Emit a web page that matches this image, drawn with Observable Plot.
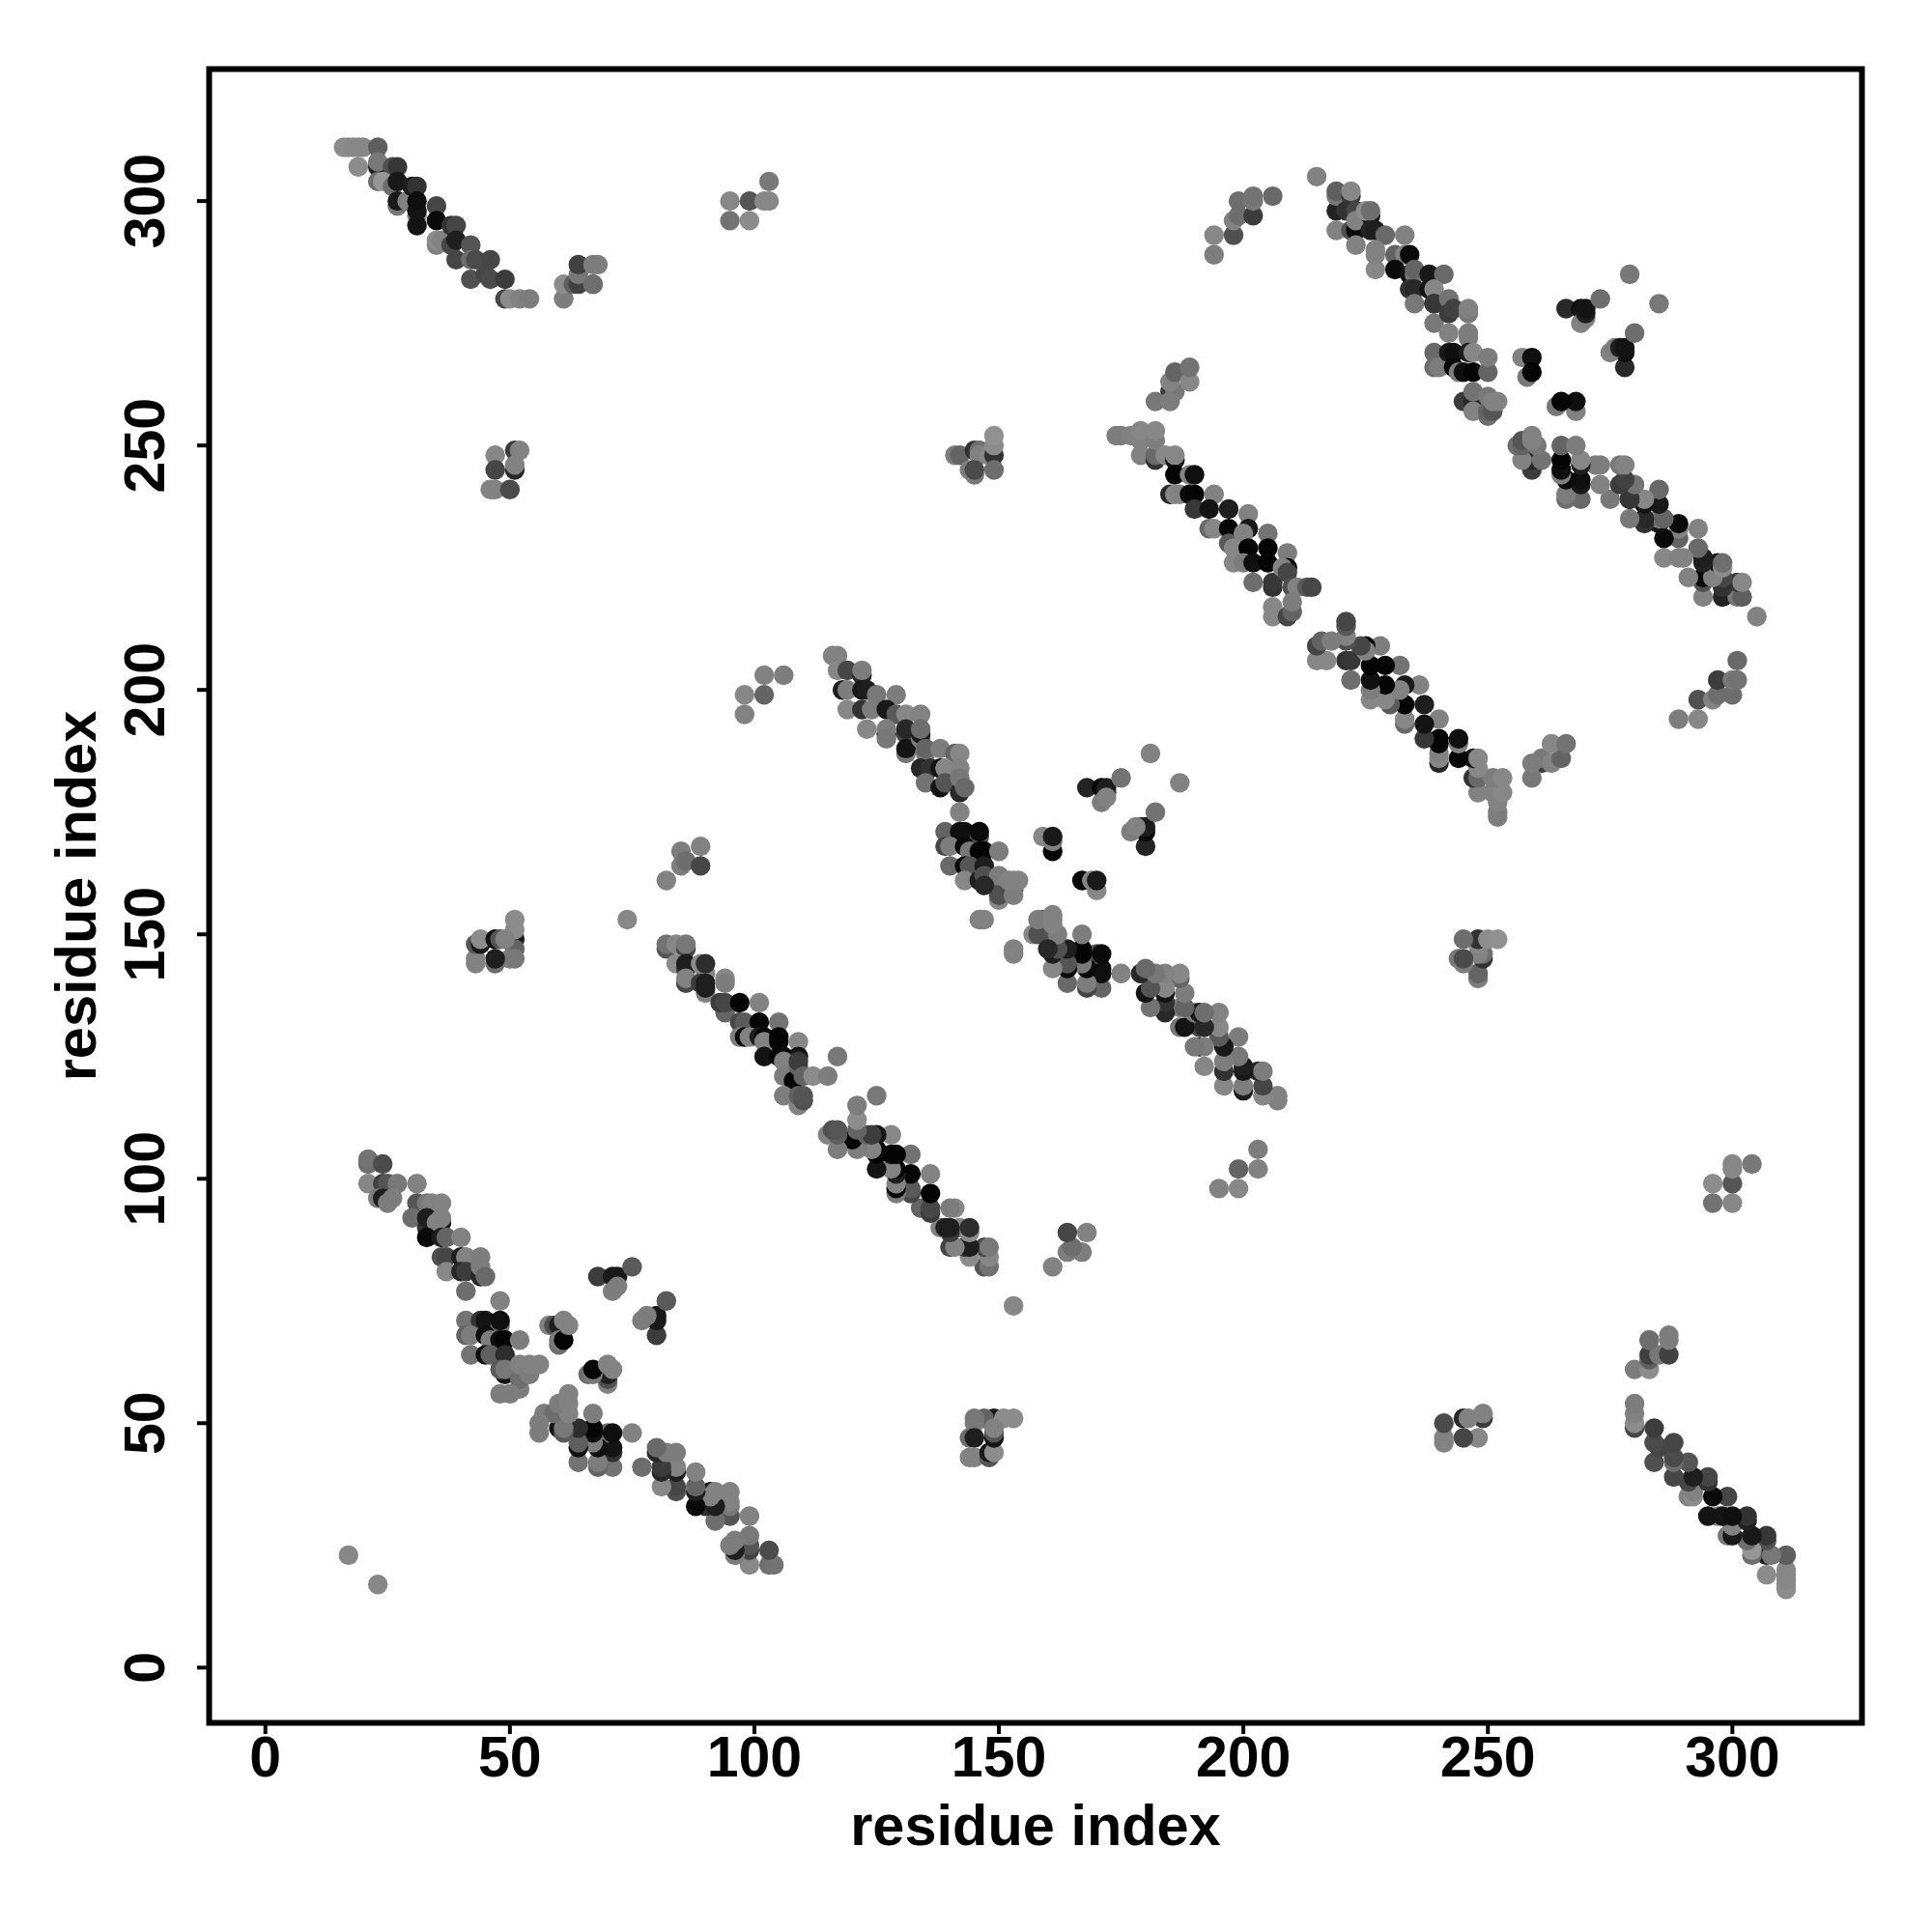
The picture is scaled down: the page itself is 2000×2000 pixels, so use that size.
<!DOCTYPE html>
<html><head><meta charset="utf-8">
<script src="https://cdn.jsdelivr.net/npm/d3@7"></script>
<script src="https://cdn.jsdelivr.net/npm/@observablehq/plot@0.6"></script>
<style>html,body{margin:0;padding:0;background:#fff}svg{display:block}</style>
</head><body><div id="chart"></div>
<script>
// [residue i, residue j, grey level] for i<j; the contact map is symmetric.
const bandA = [[16,311,140],[17,311,140],[18,311,135],[19,311,135],[20,311,135],[23,311,95],[19,307,140],[23,307,30],[23,308,120],[26,307,80],[27,307,55],[23,304,110],[24,304,150],[26,303,110],[27,299,120],[27,300,25],[27,304,25],[29,300,130],[30,303,30],[31,303,50],[31,297,135],[31,295,20],[31,298,20],[31,300,15],[35,299,70],[35,291,130],[35,296,10],[35,292,140],[36,292,130],[38,295,50],[39,295,70],[38,291,70],[39,292,30],[42,291,85],[39,288,70],[42,288,110],[43,288,75],[46,288,70],[42,284,80],[45,285,70],[46,284,75],[49,284,60],[49,280,70],[50,280,140],[52,280,130],[54,280,125]];
const clusterB = [[61,280,125],[61,283,140],[63,283,95],[64,283,65],[64,285,120],[64,287,65],[67,283,125],[67,283,110],[67,287,125],[68,287,125]];
const clusterC = [[95,300,135],[99,300,85],[102,300,135],[103,300,135],[103,304,120],[95,296,115],[99,296,140]];
const clusterD = [[141,248,125],[142,248,100],[145,249,50],[146,249,110],[146,248,130],[148,248,135],[149,248,50],[149,250,140],[149,252,145],[145,244,120],[144,245,125],[145,245,75],[149,245,110]];
const clusterE = [[47,248,135],[47,245,70],[46,241,130],[47,241,130],[50,241,75],[51,249,60],[52,249,130],[51,245,40],[51,246,130]];
const clusterF = [[51,149,25],[51,147,100],[51,151,140],[51,153,140],[50,145,125],[51,145,120],[47,144,110],[47,145,30],[43,144,130],[43,145,130],[43,148,85],[44,148,25],[44,149,140],[47,149,20],[48,149,85],[49,149,130]];
const single = [[74,153,135],[17,23,135],[215,305,130],[279,285,120]];
const bandH = [[82,147,85],[82,148,115],[84,148,135],[86,147,70],[86,148,120],[84,144,140],[86,143,55],[86,144,30],[86,140,70],[86,141,130],[89,144,140],[90,142,135],[90,144,45],[89,140,60],[90,138,130],[90,139,30],[90,140,30],[94,141,135],[94,140,125],[94,134,100],[93,136,60],[94,136,70],[97,136,3],[101,136,130],[97,132,70],[98,132,90],[101,132,5],[105,132,115],[97,129,125],[98,129,10],[99,129,130],[101,129,30],[102,129,5],[102,128,130],[105,128,10],[105,129,5],[109,128,135],[102,125,20],[105,125,5],[106,125,10],[109,125,20],[106,124,130],[106,121,125],[108,120,5],[109,123,100],[109,124,60],[110,121,100],[112,121,140],[115,121,125],[117,125,120],[106,117,125],[109,115,130],[109,117,95],[110,116,80],[110,117,85]];
const bandG = [[116,207,130],[117,207,130],[117,204,135],[119,204,70],[122,203,40],[122,204,125],[118,200,30],[119,200,125],[122,200,25],[123,200,30],[125,199,120],[129,199,125],[119,196,135],[122,196,50],[124,196,125],[123,192,135],[127,196,25],[129,195,90],[131,195,135],[134,195,130],[127,191,20],[127,192,125],[127,190,120],[131,191,70],[131,192,40],[131,187,120],[131,188,20],[134,190,125],[134,191,25],[134,192,110],[135,187,125],[135,188,100],[138,188,125],[141,187,100],[142,187,135],[134,184,40],[136,184,50],[138,184,20],[139,184,135],[142,184,130],[135,181,115],[138,180,20],[139,181,85],[142,179,40],[142,182,120],[143,180,105],[142,175,130],[139,171,100],[142,171,15],[143,171,15],[146,170,80],[146,171,10],[139,168,70],[140,168,125],[143,168,10],[144,167,120],[146,167,5],[147,167,5],[150,167,125],[140,164,105],[143,164,10],[144,164,85],[147,164,30],[143,161,135],[146,161,30],[147,161,20],[147,162,80],[150,159,85],[150,157,135],[150,158,80],[150,162,125],[153,159,80],[153,158,125],[153,161,130],[154,161,130],[152,161,130],[146,153,130],[147,153,130],[147,160,40]];
const clusterG = [[159,170,135],[161,167,5],[161,169,130],[161,170,25],[168,180,35],[171,180,10],[172,179,45],[172,180,30],[171,177,125],[172,178,130],[175,182,115],[181,187,130]];
const bandI = [[21,103,110],[21,104,115],[24,103,75],[21,99,135],[24,99,65],[25,99,85],[27,99,120],[31,99,130],[23,96,125],[24,96,30],[25,95,125],[26,96,125],[31,95,85],[33,95,120],[34,95,130],[36,95,130],[30,92,110],[33,90,50],[33,92,30],[36,91,20],[35,91,130],[36,92,130],[33,88,10],[36,88,30],[37,88,100],[40,88,130],[36,84,80],[37,84,70],[40,84,30],[41,84,130],[44,84,125],[37,81,135],[40,81,40],[41,81,60],[44,80,40],[44,82,125],[45,80,105],[41,77,110],[48,75,130],[41,71,115],[44,71,50],[45,71,20],[48,70,110],[48,71,15],[41,68,100],[42,68,125],[45,68,15],[46,67,125],[48,67,15],[49,67,5],[52,67,125],[42,64,115],[45,64,15],[46,64,95],[49,64,45],[49,60,20],[48,61,90],[49,61,120],[52,57,125],[52,59,110],[52,62,130],[54,60,125],[54,62,130],[56,62,130],[48,56,125],[50,56,125]];
const clusterI = [[68,80,60],[71,80,25],[72,80,25],[75,82,90],[71,77,125],[72,78,125],[58,70,130],[59,70,80],[60,70,30],[60,66,110],[60,67,120],[61,67,5],[61,71,130],[62,70,130]];
const clusterDn = [[98,195,130],[98,199,135],[102,199,100],[102,203,130],[106,203,125],[82,161,130],[85,164,125],[85,167,125],[86,165,110],[89,164,70],[89,168,130]];
const clusterTop = [[194,293,135],[194,289,125],[198,293,80],[198,296,130],[199,297,110],[199,300,110],[202,297,60],[202,300,120],[202,301,115],[206,301,105]];
const bandE1 = [[219,298,35],[219,301,120],[219,302,95],[219,294,130],[222,301,60],[222,302,135],[221,298,50],[223,298,70],[222,294,80],[223,294,10],[223,296,130],[223,291,130],[226,297,20],[225,298,140],[226,298,110],[226,294,35],[227,294,30],[229,293,105],[233,293,130],[227,286,135],[227,289,130],[227,290,130],[231,289,100],[233,289,130],[234,289,10],[231,286,10],[234,285,20],[235,285,120],[235,286,100],[238,285,25],[241,285,105],[234,282,50],[235,282,40],[238,282,20],[239,282,135],[235,279,120],[239,279,10],[239,279,55],[239,275,120],[242,280,115],[242,277,60],[243,278,65],[246,277,120],[246,278,130],[242,273,130],[246,272,125],[246,273,125]];
const bandE2 = [[239,269,105],[239,266,110],[240,266,125],[242,269,25],[243,269,15],[243,266,10],[244,265,125],[246,269,30],[247,269,135],[245,265,15],[247,265,5],[250,265,100],[250,268,125],[245,259,60],[247,259,40],[247,257,130],[247,261,115],[250,256,110],[250,257,100],[250,260,120],[251,257,85],[251,259,130],[252,259,130],[257,268,130],[259,268,15],[258,264,120],[259,265,5],[266,278,40],[269,278,15],[269,275,130],[270,276,125],[270,277,30],[270,278,20],[273,280,110]];
const bandF = [[185,261,60],[186,261,120],[185,263,130],[186,265,100],[189,263,135],[189,266,115],[182,259,120],[185,259,125],[174,252,125],[175,252,125],[177,252,130],[179,248,130],[179,251,130],[179,253,135],[182,247,50],[182,248,105],[182,251,125],[182,253,135],[184,248,135],[186,247,20],[186,248,135],[186,244,5],[185,240,40],[186,240,135],[187,240,130],[189,244,130],[190,244,15],[189,240,10],[190,240,5],[190,237,55],[194,240,130],[193,237,20],[193,233,105],[194,233,135],[197,237,30],[197,233,5],[197,230,90],[198,229,135],[198,226,135],[201,236,130],[201,233,25],[200,232,130],[201,229,5],[200,226,125],[202,226,15],[202,222,110],[205,232,115],[205,229,5],[205,226,5],[206,221,50],[206,222,55],[209,228,125],[209,225,5],[208,225,130],[209,224,70],[210,221,80],[211,221,130],[213,221,90],[214,221,70],[206,215,135],[206,217,135],[209,215,70],[210,216,100],[210,218,125]];

const upper = [bandA, clusterB, clusterC, clusterD, clusterE, clusterF, single, bandH, bandG, clusterG, bandI, clusterI, clusterDn, clusterTop, bandE1, bandE2, bandF].flat();
const points = upper.flatMap(([i, j, g]) => [{x: i, y: j, g}, {x: j, y: i, g}]);
const ticks = [0, 50, 100, 150, 200, 250, 300];
const axisTitle = "residue index";

const plot = Plot.plot({
  width: 2000, height: 2000,
  marginLeft: 216, marginRight: 73, marginTop: 71, marginBottom: 217,
  style: {fontFamily: "'Liberation Sans', Arial, sans-serif", fontWeight: "bold", background: "#fff", color: "#000"},
  x: {domain: [-11.5, 326.5], label: null},
  y: {domain: [-11.3, 327], label: null},
  color: {type: "identity"},
  marks: [
    Plot.dot(points, {x: "x", y: "y", r: 10.2, fill: d => `rgb(${d.g},${d.g},${d.g})`, stroke: "none"}),
    Plot.frame({stroke: "#000", strokeWidth: 6}),
    Plot.axisX({ticks, tickSize: 12, tickPadding: 2, fontSize: 59, strokeWidth: 4, tickFormat: d => String(d), label: null}),
    Plot.axisY({ticks, tickSize: 12, tickPadding: 35, fontSize: 59, strokeWidth: 4, tickRotate: -90, tickFormat: d => String(d), label: null, textAnchor: "middle"}),
    Plot.text([axisTitle], {frameAnchor: "bottom", dy: 126, fontSize: 59.5, fontWeight: "bold", fill: "#000"}),
    Plot.text([axisTitle], {frameAnchor: "left", dx: -137, rotate: -90, textAnchor: "middle", fontSize: 59.5, fontWeight: "bold", fill: "#000"})
  ]
});
document.getElementById("chart").append(plot);
</script></body></html>
